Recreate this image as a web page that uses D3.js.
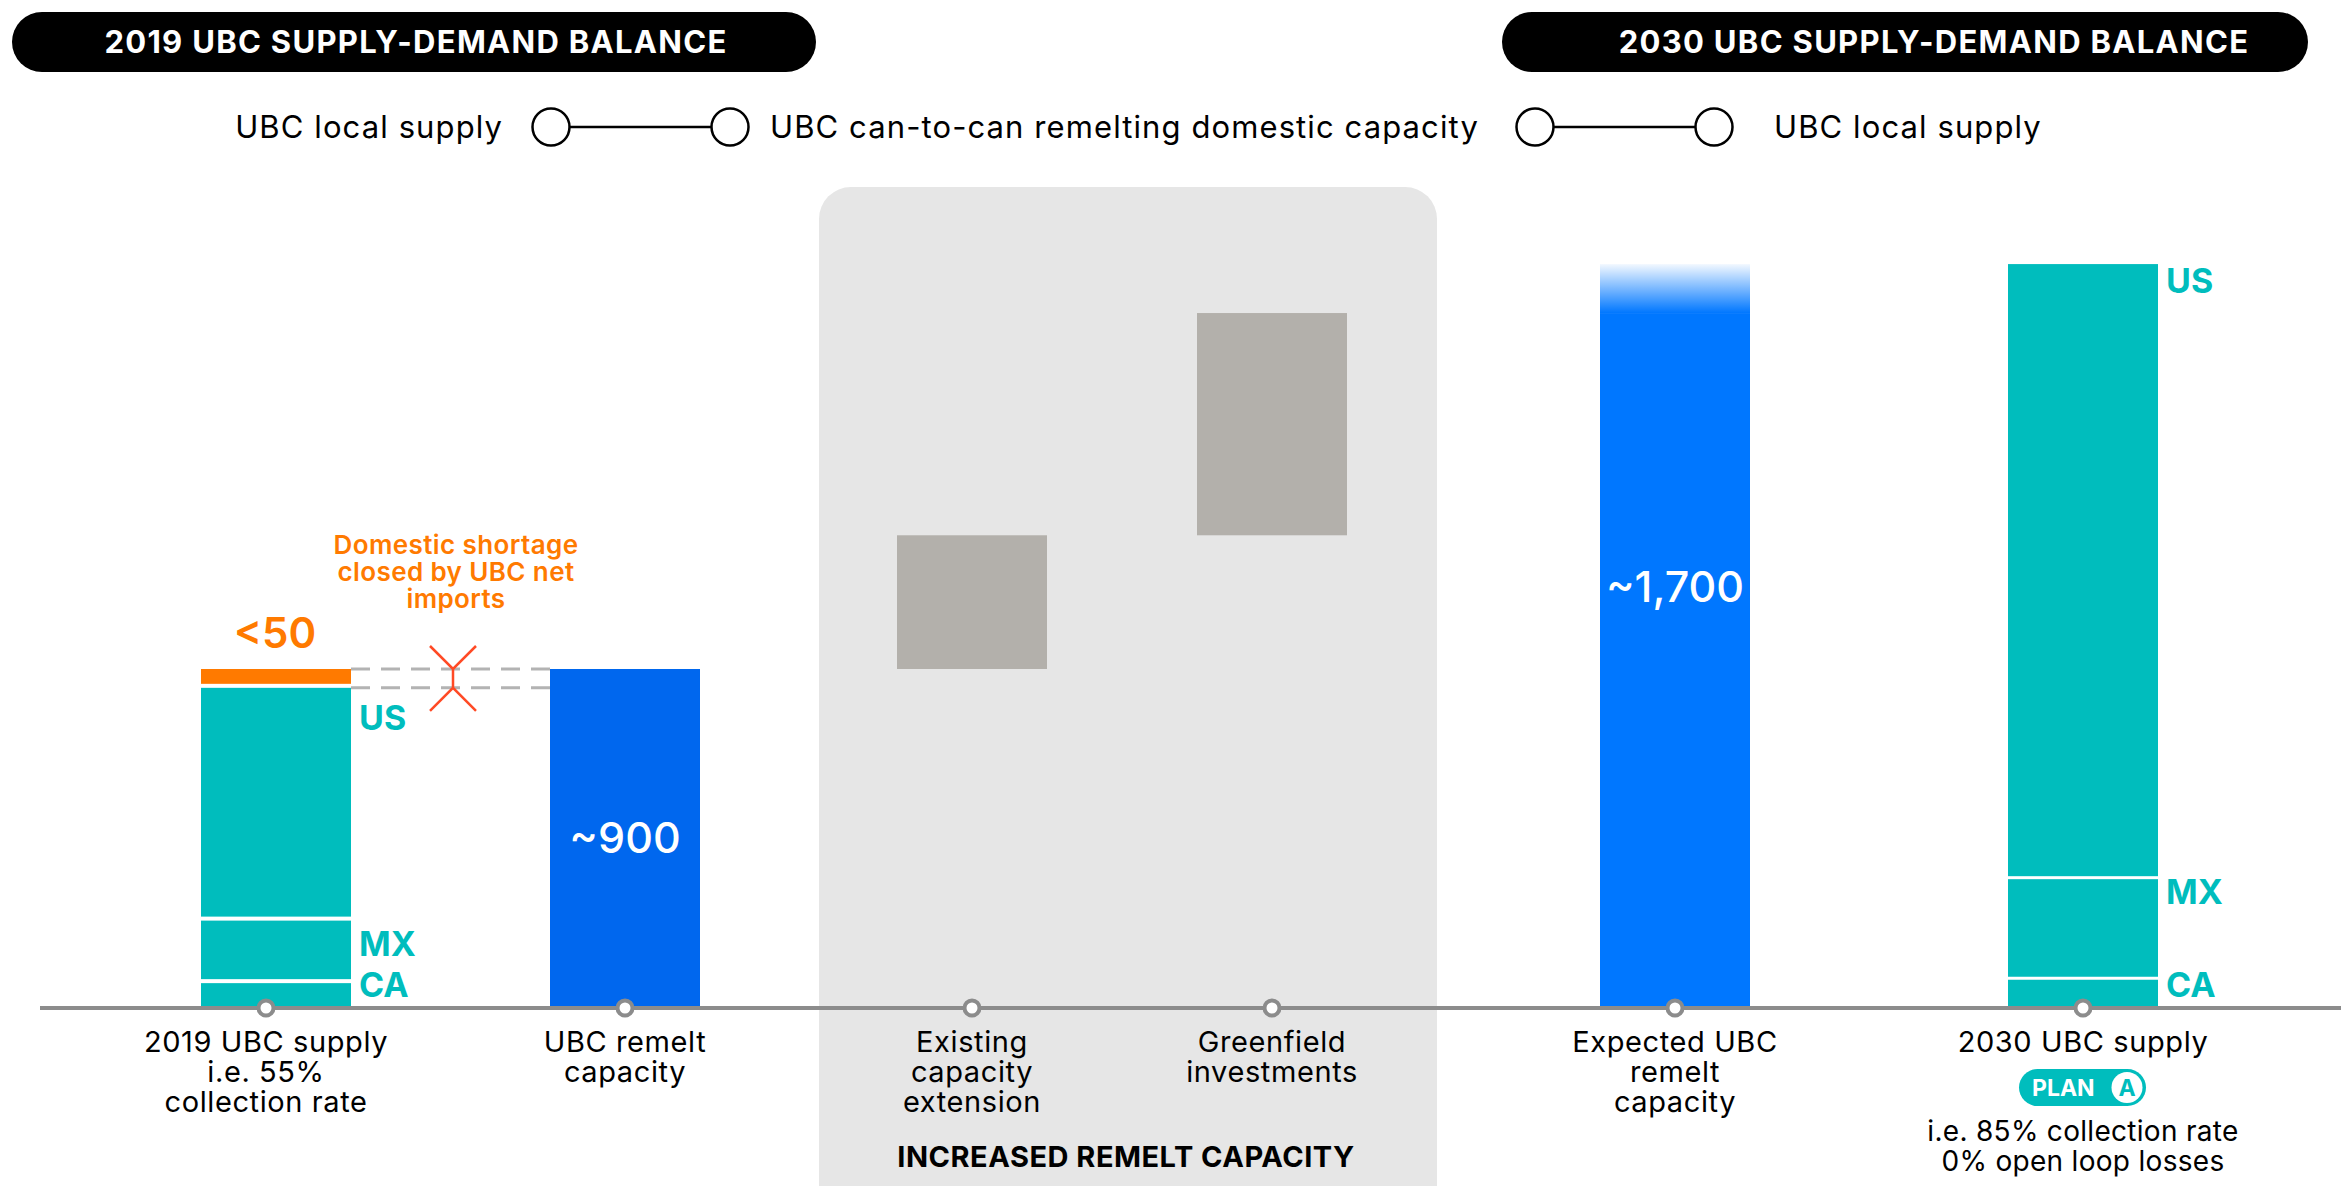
<!DOCTYPE html>
<html>
<head>
<meta charset="utf-8">
<script src="https://cdn.jsdelivr.net/npm/d3@7"></script>
<style>
  body { margin: 0; background: #fff; overflow: hidden; }
  text { font-family: Inter, "Noto Sans", sans-serif; }
</style>
</head>
<body>
<svg width="2341" height="1186"></svg>
<script>
// categories along the baseline
const categories = ["supply2019", "remelt2019", "extension", "greenfield", "expected2030", "supply2030"];
const bottomLabels = [
  ["2019 UBC supply", "i.e. 55%", "collection rate"],
  ["UBC remelt", "capacity"],
  ["Existing", "capacity", "extension"],
  ["Greenfield", "investments"],
  ["Expected UBC", "remelt", "capacity"],
  ["2030 UBC supply"]
];
const regions = ["CA", "MX", "US"];

// values in kt, stacked bottom to top (CA, MX, US)
const supply2019 = [66, 166, 618];
const shortage2019 = 50;
const remelt2019 = 900;
const capacityAdds = [355, 590]; // existing extension, greenfield
const supply2030 = [75, 267, 1633];
const valueLabels = ["<50", "~900", "~1,700"];

const headers = ["2019 UBC SUPPLY-DEMAND BALANCE", "2030 UBC SUPPLY-DEMAND BALANCE"];
const legendLeft = ["UBC local supply", "UBC can-to-can remelting domestic capacity", "UBC local supply"];
const annotation = ["Domestic shortage", "closed by UBC net", "imports"];
const plan2030 = ["i.e. 85% collection rate", "0% open loop losses"];

const teal = "#00bdbd", orange = "#ff7a00", gray = "#8c8c8c";

const svg = d3.select("svg");
const baseY = 1008;
const barW = 150;

// y scale, bars are drawn from 0 at the baseline
const y = d3.scaleLinear().domain([0, remelt2019]).range([baseY, 669]);
// x centres of each category
const x = d3.scaleOrdinal().domain(categories).range([266, 625, 972, 1272, 1675, 2083]);

// gray panel behind the increased capacity steps
svg.append("rect")
  .attr("x", 819).attr("y", 187)
  .attr("width", 618).attr("height", 1030)
  .attr("rx", 32)
  .attr("fill", "#e6e6e6");

// header pills
const pills = [{ x: 12, w: 804, tx: 416 }, { x: 1502, w: 806, tx: 1934 }];
pills.forEach((p, i) => {
  svg.append("rect")
    .attr("x", p.x).attr("y", 12)
    .attr("width", p.w).attr("height", 60)
    .attr("rx", 30)
    .attr("fill", "#000");
  svg.append("text")
    .attr("x", p.tx).attr("y", 53)
    .attr("text-anchor", "middle")
    .attr("fill", "#fff")
    .attr("font-size", 31)
    .attr("letter-spacing", 1.3)
    .attr("font-weight", 700)
    .text(headers[i]);
});

// legend row with the connector circles
const legendY = 127;
[[551, 730], [1535, 1714]].forEach(([a, b]) => {
  svg.append("line")
    .attr("x1", a).attr("x2", b)
    .attr("y1", legendY).attr("y2", legendY)
    .attr("stroke", "#000").attr("stroke-width", 2.5);
  [a, b].forEach(cx => {
    svg.append("circle")
      .attr("cx", cx).attr("cy", legendY).attr("r", 18.5)
      .attr("fill", "#fff").attr("stroke", "#000").attr("stroke-width", 2.5);
  });
});
const legendText = (tx, anchor, t) => svg.append("text")
  .attr("x", tx).attr("y", legendY + 11)
  .attr("text-anchor", anchor)
  .attr("font-size", 31)
  .attr("letter-spacing", 1.1)
  .text(t);
legendText(503, "end", legendLeft[0]);
legendText(770, "start", legendLeft[1]);
legendText(1774, "start", legendLeft[2]);

// helper for stacked bars with white gaps between segments
function stackBar(cx, values, gap, colors) {
  let acc = 0;
  const segs = values.map((v, i) => {
    const s = { start: acc, end: acc + v, i: i, color: colors[i] };
    acc += v;
    return s;
  });
  svg.append("g").selectAll("rect")
    .data(segs)
    .join("rect")
    .attr("x", cx - barW / 2)
    .attr("y", d => y(d.end))
    .attr("width", barW)
    .attr("height", d => y(d.start) - y(d.end) - (d.i > 0 ? gap : 0))
    .attr("fill", d => d.color);
  return segs;
}

// region labels sit just inside the top of each segment
function regionLabels(cx, segs, dys) {
  svg.append("g").selectAll("text")
    .data(segs.slice(0, 3))
    .join("text")
    .attr("x", cx + barW / 2 + 8)
    .attr("y", (d, i) => Math.min(y(d.end) + dys[i], baseY - 11))
    .attr("fill", teal)
    .attr("font-size", 34)
    .attr("font-weight", 700)
    .text((d, i) => regions[i]);
}

// 2019 supply, shortage on top
const c0 = x("supply2019") + 10;
const segs2019 = stackBar(c0, supply2019.concat([shortage2019]), 4, [teal, teal, teal, orange]);
regionLabels(c0, segs2019, [40, 35, 42]);
svg.append("text")
  .attr("x", c0 - 1).attr("y", y(remelt2019) - 21)
  .attr("text-anchor", "middle")
  .attr("fill", orange)
  .attr("font-size", 42)
  .attr("font-weight", 600)
  .text(valueLabels[0]);

// 2019 remelt capacity
const c1 = x("remelt2019");
svg.append("rect")
  .attr("x", c1 - barW / 2).attr("y", y(remelt2019))
  .attr("width", barW).attr("height", y(0) - y(remelt2019))
  .attr("fill", "#0067ee");
svg.append("text")
  .attr("x", c1).attr("y", y(remelt2019 / 2) + 14)
  .attr("text-anchor", "middle")
  .attr("fill", "#fff")
  .attr("font-size", 43)
  .attr("font-weight", 500)
  .text(valueLabels[1]);

// dashed shortage gap between the two 2019 bars
const supplyTotal = d3.sum(supply2019);
[remelt2019, supplyTotal].forEach(v => {
  svg.append("line")
    .attr("x1", c0 + barW / 2).attr("x2", c1 - barW / 2)
    .attr("y1", y(v)).attr("y2", y(v))
    .attr("stroke", "#b3b3b3").attr("stroke-width", 3)
    .attr("stroke-dasharray", "19,11");
});
const xm = 453, yt = y(remelt2019), yb = y(supplyTotal);
svg.append("path")
  .attr("d", `M${xm - 23},${yt - 23}L${xm},${yt}L${xm + 23},${yt - 23}M${xm},${yt}L${xm},${yb}` +
             `M${xm - 23},${yb + 23}L${xm},${yb}L${xm + 23},${yb + 23}`)
  .attr("fill", "none").attr("stroke", "#ff4a25").attr("stroke-width", 2.5);
svg.append("g").selectAll("text")
  .data(annotation)
  .join("text")
  .attr("x", 456)
  .attr("y", (d, i) => 554 + i * 27)
  .attr("text-anchor", "middle")
  .attr("fill", orange)
  .attr("font-size", 26)
  .attr("letter-spacing", 0.4)
  .attr("font-weight", 600)
  .text(d => d);

// waterfall steps for increased remelt capacity
let level = remelt2019;
["extension", "greenfield"].forEach((k, i) => {
  const v = capacityAdds[i];
  svg.append("rect")
    .attr("x", x(k) - barW / 2).attr("y", y(level + v))
    .attr("width", barW).attr("height", y(level) - y(level + v))
    .attr("fill", "#b3b0ab");
  level += v;
});

// expected 2030 remelt capacity, faded top
const expected = remelt2019 + d3.sum(capacityAdds);
const total2030 = d3.sum(supply2030);
const grad = svg.append("defs").append("linearGradient")
  .attr("id", "fade")
  .attr("gradientUnits", "userSpaceOnUse")
  .attr("x1", 0).attr("x2", 0)
  .attr("y1", y(total2030)).attr("y2", y(expected));
grad.append("stop").attr("offset", 0).attr("stop-color", "#0077ff").attr("stop-opacity", 0.05);
grad.append("stop").attr("offset", 1).attr("stop-color", "#0077ff").attr("stop-opacity", 1);
const c4 = x("expected2030");
svg.append("rect")
  .attr("x", c4 - barW / 2).attr("y", y(total2030))
  .attr("width", barW).attr("height", y(expected) - y(total2030))
  .attr("fill", "url(#fade)");
svg.append("rect")
  .attr("x", c4 - barW / 2).attr("y", y(expected))
  .attr("width", barW).attr("height", y(0) - y(expected))
  .attr("fill", "#0077ff");
svg.append("text")
  .attr("x", c4).attr("y", 602)
  .attr("text-anchor", "middle")
  .attr("fill", "#fff")
  .attr("font-size", 43)
  .attr("font-weight", 500)
  .text(valueLabels[2]);

// 2030 supply
const c5 = x("supply2030");
const segs2030 = stackBar(c5, supply2030, 3, [teal, teal, teal]);
regionLabels(c5, segs2030, [30, 25, 29]);

// baseline with markers
svg.append("line")
  .attr("x1", 40).attr("x2", 2341)
  .attr("y1", baseY).attr("y2", baseY)
  .attr("stroke", gray).attr("stroke-width", 4);
svg.append("g").selectAll("circle")
  .data(categories)
  .join("circle")
  .attr("cx", d => x(d)).attr("cy", baseY).attr("r", 7.5)
  .attr("fill", "#fff").attr("stroke", gray).attr("stroke-width", 4);

// category labels under the baseline
categories.forEach((c, i) => {
  svg.append("g").selectAll("text")
    .data(bottomLabels[i])
    .join("text")
    .attr("x", x(c))
    .attr("y", (d, j) => 1052 + j * 30)
    .attr("text-anchor", "middle")
    .attr("font-size", 29)
    .attr("letter-spacing", 0.6)
    .text(d => d);
});

// plan A pill under 2030 supply
const pc = x("supply2030");
svg.append("rect")
  .attr("x", pc - 64).attr("y", 1069)
  .attr("width", 127).attr("height", 37).attr("rx", 18.5)
  .attr("fill", teal);
svg.append("text")
  .attr("x", pc - 51).attr("y", 1096)
  .attr("fill", "#fff").attr("font-size", 23).attr("font-weight", 700)
  .text("PLAN");
svg.append("circle")
  .attr("cx", pc + 44).attr("cy", 1087.5).attr("r", 15.5)
  .attr("fill", "#fff");
svg.append("text")
  .attr("x", pc + 44).attr("y", 1096)
  .attr("text-anchor", "middle")
  .attr("fill", teal).attr("font-size", 23).attr("font-weight", 700)
  .text("A");
svg.append("g").selectAll("text")
  .data(plan2030)
  .join("text")
  .attr("x", pc)
  .attr("y", (d, i) => 1141 + i * 29.5)
  .attr("text-anchor", "middle")
  .attr("font-size", 28)
  .attr("letter-spacing", 0.3)
  .text(d => d);

// panel caption
svg.append("text")
  .attr("x", 1126).attr("y", 1167)
  .attr("text-anchor", "middle")
  .attr("font-size", 29)
  .attr("letter-spacing", 0.5)
  .attr("font-weight", 700)
  .text("INCREASED REMELT CAPACITY");
</script>
</body>
</html>
